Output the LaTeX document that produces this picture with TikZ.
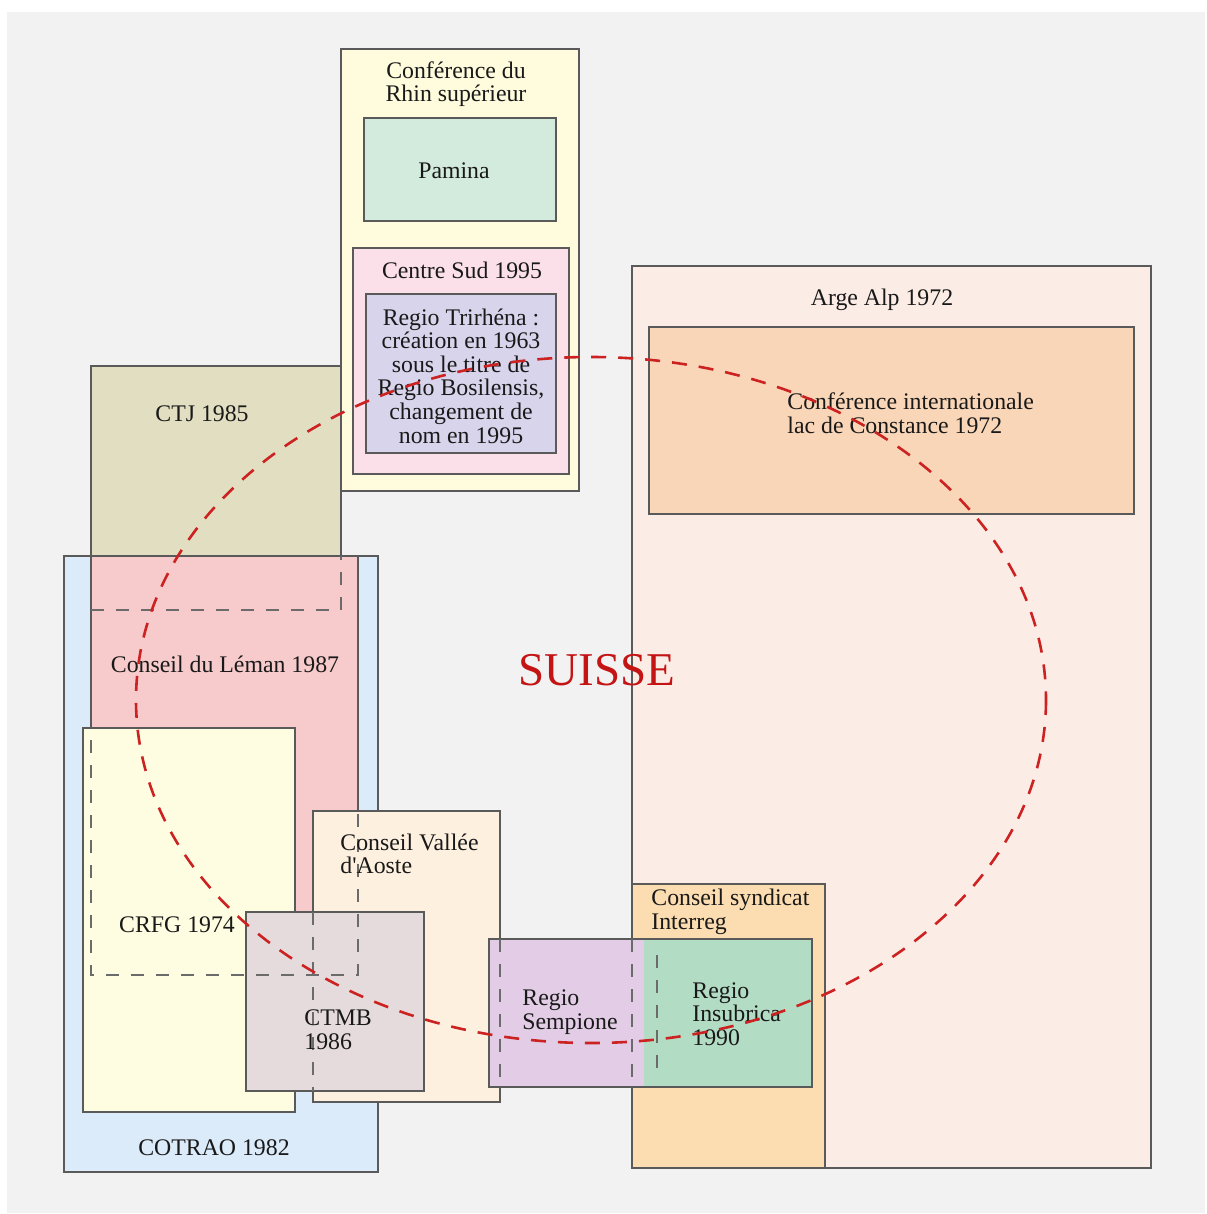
\documentclass[tikz,border=0pt]{standalone}
\usepackage{fontspec}
\setmainfont{Liberation Serif}[Ligatures=TeXOff]
\definecolor{bggray}{HTML}{F2F2F2}
\definecolor{edge}{HTML}{5A5A5A}
\definecolor{cRhin}{HTML}{FEFCDD}
\definecolor{cPamina}{HTML}{D3EBDD}
\definecolor{cCentre}{HTML}{FBE0EA}
\definecolor{cTrir}{HTML}{D8D4EC}
\definecolor{cCTJ}{HTML}{E1DEC1}
\definecolor{cCotrao}{HTML}{DBEBFA}
\definecolor{cLeman}{HTML}{F7CBCB}
\definecolor{cCRFG}{HTML}{FEFDE1}
\definecolor{cVallee}{HTML}{FDF0DF}
\definecolor{cCTMB}{HTML}{E6DBDC}
\definecolor{cSemp}{HTML}{E2CCE6}
\definecolor{cInsub}{HTML}{B3DCC4}
\definecolor{cSynd}{HTML}{FCDCB1}
\definecolor{cArge}{HTML}{FBEDE6}
\definecolor{cConst}{HTML}{FAD6B8}
\definecolor{ellred}{HTML}{CC2222}
\definecolor{suisse}{HTML}{C41414}
\tikzset{
  zone/.style={draw=edge, line width=0.8pt},
  hidden/.style={draw=edge!90, line width=0.55pt, dash pattern=on 6.5pt off 6pt},
  lbl/.style={inner sep=0pt, font=\fontsize{11.9pt}{11.8pt}\selectfont, text=black!90, align=center},
  lblL/.style={lbl, anchor=west, align=left}
}
\begin{document}
\begin{tikzpicture}[x=0.5pt,y=-0.5pt]
\useasboundingbox (0,0) rectangle (1206,1214);
\fill[white] (0,0) rectangle (1206,1214);
\fill[bggray] (7,12) rectangle (1205,1213);

% Arge Alp group
\filldraw[zone, fill=cArge] (632,266) rectangle (1151,1168);
\filldraw[zone, fill=cConst] (649,327) rectangle (1134,514);
\filldraw[zone, fill=cSynd] (632,884) rectangle (825,1168);

% Rhin superieur group
\filldraw[zone, fill=cRhin] (341,49) rectangle (579,491);
\filldraw[zone, fill=cPamina] (364,118) rectangle (556,221);
\filldraw[zone, fill=cCentre] (353,248) rectangle (569,474);
\filldraw[zone, fill=cTrir] (366,294) rectangle (556,453);

% West group
\filldraw[zone, fill=cCTJ] (91,366) rectangle (341,610);
\filldraw[zone, fill=cCotrao] (64,556) rectangle (378,1172);
\filldraw[zone, fill=cLeman] (91,556) rectangle (358,975);
\draw[hidden] (91,610) -- (341,610) -- (341,556);
\filldraw[zone, fill=cCRFG] (83,728) rectangle (295,1112);
\filldraw[zone, fill=cVallee] (313,811) rectangle (500,1102);
\filldraw[zone, fill=cCTMB] (246,912) rectangle (424,1091);
\draw[hidden] (91,740) -- (91,975) -- (358,975) -- (358,811);
\draw[hidden] (313,912) -- (313,1091);

% Sempione / Insubrica
\fill[cSemp] (489,939) rectangle (644,1087);
\fill[cInsub] (644,939) rectangle (812,1087);
\draw[zone] (489,939) rectangle (812,1087);
\draw[hidden] (500,939) -- (500,1087);
\draw[hidden] (632,939) -- (632,1087);
\draw[hidden] (657,955) -- (657,1080);

% labels
\node[lbl] (rhin) at (456,84) {Conférence du\\Rhin supérieur};
\node[lbl] (pamina) at (454,171) {Pamina};
\node[lbl] (centre) at (462,270) {Centre Sud 1995};
\node[lbl] (trir) at (461,376) {Regio Trirhéna :\\création en 1963\\sous le titre de\\Regio Bosilensis,\\changement de\\nom en 1995};
\node[lbl] (ctj) at (202,414) {CTJ 1985};
\node[lbl] (leman) at (225,664) {Conseil du Léman 1987};
\node[lbl] (crfg) at (177,925) {CRFG 1974};
\node[lblL] (vallee) at (340,854) {Conseil Vallée\\d'Aoste};
\node[lblL] (ctmb) at (304,1030) {CTMB\\1986};
\node[lbl] (cotrao) at (214,1148) {COTRAO 1982};
\node[lblL] (semp) at (522,1012) {Regio\\Sempione};
\node[lblL] (synd) at (651,912) {Conseil syndicat\\Interreg};
\node[lblL] (insub) at (692,1014) {Regio\\Insubrica\\1990};
\node[lbl] (arge) at (882,300) {Arge Alp 1972};
\node[lblL] (const) at (787,413) {Conférence internationale\\lac de Constance 1972};

% Suisse ellipse
\draw[ellred, line width=1.3pt, dash pattern=on 7.5pt off 6pt] (591,700) ellipse [x radius=455, y radius=343];
\node[inner sep=0pt, text=suisse, font=\fontsize{23.5pt}{24pt}\selectfont] (suisse) at (597,670) {SUISSE};
\end{tikzpicture}
\end{document}
